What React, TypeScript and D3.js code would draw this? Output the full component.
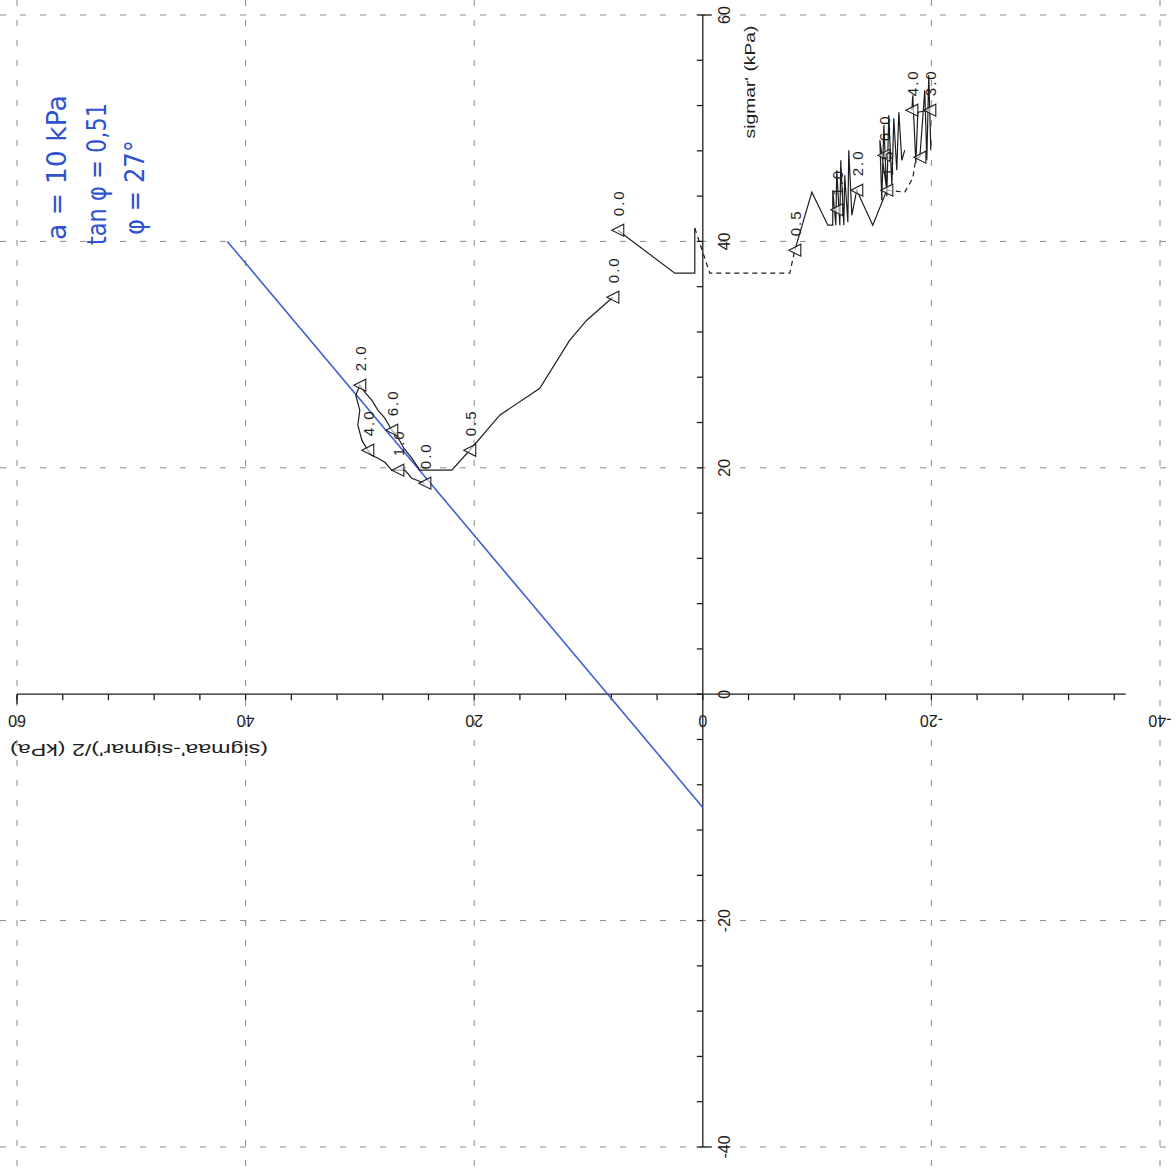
import React from "react";
import * as d3 from "d3";

// Axis tick labels (original rotated plot)
const qTicks = [60, 40, 20, 0, -20, -40];
const pTicks = [60, 40, 20, 0, -20, -40];
const gridQ = [60, 40, 20, -20, -40];
const gridP = [60, 40, 20, -20, -40];

// Failure line (blue)
const failQ = [0, 41.6];
const failP = [-10, 40];

// Lower-left stress path (solid)
const pathAQ = [7.87, 10.15, 11.64, 14.26, 17.76, 20.39, 21.96, 24.32, 24.76, 25.46, 26.16, 26.68, 27.21, 27.82, 28.43, 28.96, 29.57, 30.01, 30.36, 30.01, 30.18, 29.83, 29.31, 28.96, 28.43, 27.82, 27.21, 26.68, 26.07, 25.46, 24.32];
const pathAP = [35.07, 33.04, 31.27, 27.03, 24.65, 21.55, 19.79, 19.79, 19.79, 20.85, 21.73, 22.70, 23.32, 24.38, 25.09, 25.97, 26.68, 27.30, 26.41, 25.09, 23.76, 22.44, 21.55, 21.11, 20.85, 20.49, 19.79, 19.79, 19.79, 19.08, 18.64];

// Upper stress path start (solid)
const pathBQ = [7.44, 2.45, 0.70, 0.70];
const pathBP = [40.99, 37.19, 37.19, 41.17];

// Dashed connection
const pathCQ = [0.70, -0.61, -7.61, -8.05];
const pathCP = [41.17, 37.19, 37.19, 39.22];

// Right zigzag (solid)
const pathDQ = [-8.05, -9.54, -10.94, -11.37, -11.37, -11.64, -11.72, -11.99, -12.07, -12.34, -12.42, -12.69, -12.77, -13.04, -13.47, -14.87, -16.10, -15.49, -15.66, -15.84, -16.10, -16.27, -16.54, -16.71, -16.97, -17.15, -17.41, -17.67];
const pathDP = [39.22, 44.35, 41.43, 41.43, 44.52, 41.43, 46.29, 41.43, 47.17, 41.43, 45.85, 41.70, 48.06, 42.32, 44.52, 41.43, 44.52, 48.94, 43.64, 50.27, 43.99, 51.15, 44.96, 50.88, 46.29, 51.41, 47.17, 48.06];

// Right dashed part
const pathEQ = [-16.10, -17.67, -18.37, -18.64, -18.99];
const pathEP = [44.52, 44.35, 45.58, 47.35, 47.44];

// Right-most strokes (solid)
const pathFQ = [-18.99, -19.42, -19.60, -19.77, -19.95, -19.86, -18.81, -18.64, -18.37, -18.29];
const pathFP = [47.44, 53.36, 47.17, 54.68, 48.06, 51.59, 51.41, 46.90, 52.91, 51.59];

// Markers with time labels
const markQ = [7.87, 7.44, 20.39, 26.68, 27.21, 30.01, 29.31, 24.32, -8.05, -11.72, -13.47, -15.84, -16.10, -18.99, -18.29, -19.86];
const markP = [35.07, 40.99, 21.55, 19.79, 23.32, 27.30, 21.55, 18.64, 39.22, 42.80, 44.52, 47.60, 44.52, 47.44, 51.59, 51.59];
const markLabel = ["0.0", "0.0", "0.5", "1.0", "6.0", "2.0", "4.0", "0.0", "0.5", "1.0", "2.0", "6.0", "1.5", "", "4.0", "3.0"];

const noteLines = ["a = 10 kPa", "tan φ = 0,51", "φ = 27°"];

const W = 1176;
const H = 1169;

export default function App() {
  const x = d3.scaleLinear().domain([60, -40]).range([17, 1160]);
  const y = d3.scaleLinear().domain([60, -40]).range([15, 1147]);
  const line = d3
    .line<[number, number]>()
    .x((d) => x(d[0]))
    .y((d) => y(d[1]));
  const zip = (a: number[], b: number[]) => a.map((v, i) => [v, b[i]] as [number, number]);

  const x0 = x(0);
  const y0 = y(0);
  const minor = d3.range(-40, 61, 4);
  const ink = "#1e1e1e";
  const blue = "#3f5fd6";
  const noteBlue = "#2f52d0";
  const font = "'Liberation Sans', Arial, sans-serif";

  const tri = (cx: number, cy: number) => {
    const s = 6;
    return `M${cx - s},${cy} L${cx + s},${cy - s} L${cx + s},${cy + s} Z`;
  };

  return (
    <svg
      width={W}
      height={H}
      style={{ position: "absolute", left: 0, top: 0, background: "#fff" }}
    >
      {/* grid */}
      <g stroke="#8a8a8a" strokeWidth={1} strokeDasharray="6,14">
        {gridQ.map((q) => (
          <line key={"gq" + q} x1={x(q)} x2={x(q)} y1={0} y2={H} />
        ))}
        {gridP.map((p) => (
          <line key={"gp" + p} x1={0} x2={W} y1={y(p)} y2={y(p)} />
        ))}
      </g>

      {/* horizontal axis */}
      <g stroke={ink} strokeWidth={1.3}>
        <line x1={x(60)} x2={x(-37)} y1={y0} y2={y0} />
        <line x1={x(60)} x2={x(60)} y1={y0} y2={y0 + 10} />
        {minor
          .filter((v) => v >= -36)
          .map((v) => (
            <line key={"tq" + v} x1={x(v)} x2={x(v)} y1={y0} y2={y0 + 6} />
          ))}
      </g>
      {/* vertical axis */}
      <g stroke={ink} strokeWidth={1.3}>
        <line x1={x0} x2={x0} y1={y(60)} y2={y(-40)} />
        <line x1={x0} x2={x0 + 9} y1={y(60)} y2={y(60)} />
        <line x1={x0} x2={x0 + 9} y1={y(-40)} y2={y(-40)} />
        {minor.map((v) => (
          <line key={"tp" + v} x1={x0 - 6} x2={x0} y1={y(v)} y2={y(v)} />
        ))}
      </g>

      {/* tick labels */}
      <g fill={ink} fontFamily={font} fontSize={16}>
        {qTicks.map((q) => (
          <text
            key={"lq" + q}
            transform={`translate(${x(q)},${y0 + 26}) rotate(180)`}
            textAnchor="middle"
            dominantBaseline="central"
          >
            {q}
          </text>
        ))}
        {pTicks.map((p) => (
          <text
            key={"lp" + p}
            transform={`translate(${x0 + 22},${y(p)}) rotate(-90)`}
            textAnchor="middle"
            dominantBaseline="central"
          >
            {p}
          </text>
        ))}
      </g>

      {/* axis titles */}
      <text
        transform={`translate(139,${y0 + 55}) rotate(180)`}
        textAnchor="middle"
        dominantBaseline="central"
        fontFamily={font}
        fontSize={16}
        fill={ink}
        textLength={258}
        lengthAdjust="spacingAndGlyphs"
      >
        (sigmaa'-sigmar')/2 (kPa)
      </text>
      <text
        transform={`translate(750,82) rotate(-90)`}
        textAnchor="middle"
        dominantBaseline="central"
        fontFamily={font}
        fontSize={14}
        fill={ink}
        textLength={113}
        lengthAdjust="spacingAndGlyphs"
      >
        sigmar' (kPa)
      </text>

      {/* blue failure line */}
      <path d={line(zip(failQ, failP)) || ""} stroke={blue} strokeWidth={1.6} fill="none" />

      {/* stress paths */}
      <g fill="none" stroke={ink} strokeWidth={1.2} strokeLinejoin="miter">
        <path d={line(zip(pathAQ, pathAP)) || ""} />
        <path d={line(zip(pathBQ, pathBP)) || ""} />
        <path d={line(zip(pathCQ, pathCP)) || ""} strokeDasharray="5,4" />
        <path d={line(zip(pathDQ, pathDP)) || ""} />
        <path d={line(zip(pathEQ, pathEP)) || ""} strokeDasharray="5,4" />
        <path d={line(zip(pathFQ, pathFP)) || ""} />
      </g>

      {/* markers and labels */}
      <g>
        {markQ.map((q, i) => {
          const cx = x(q);
          const cy = y(markP[i]);
          return (
            <g key={"m" + i}>
              <path d={tri(cx, cy)} fill="#fff" fillOpacity={0.6} stroke={ink} strokeWidth={1.1} />
              {markLabel[i] && (
                <text
                  transform={`translate(${cx + 6},${cy - 14}) rotate(-90)`}
                  fontFamily={font}
                  fontSize={15}
                  letterSpacing={2}
                  fill={ink}
                >
                  {markLabel[i]}
                </text>
              )}
            </g>
          );
        })}
      </g>

      {/* handwritten notes */}
      <g fill={noteBlue} fontFamily="'DejaVu Sans', sans-serif" fontSize={26}>
        <text transform="translate(66,240) rotate(-90)" textLength={145} lengthAdjust="spacingAndGlyphs">
          {noteLines[0]}
        </text>
        <text transform="translate(106,245) rotate(-90)" textLength={142} lengthAdjust="spacingAndGlyphs">
          {noteLines[1]}
        </text>
        <text transform="translate(144,235) rotate(-90)" textLength={95} lengthAdjust="spacingAndGlyphs">
          {noteLines[2]}
        </text>
      </g>
    </svg>
  );
}
